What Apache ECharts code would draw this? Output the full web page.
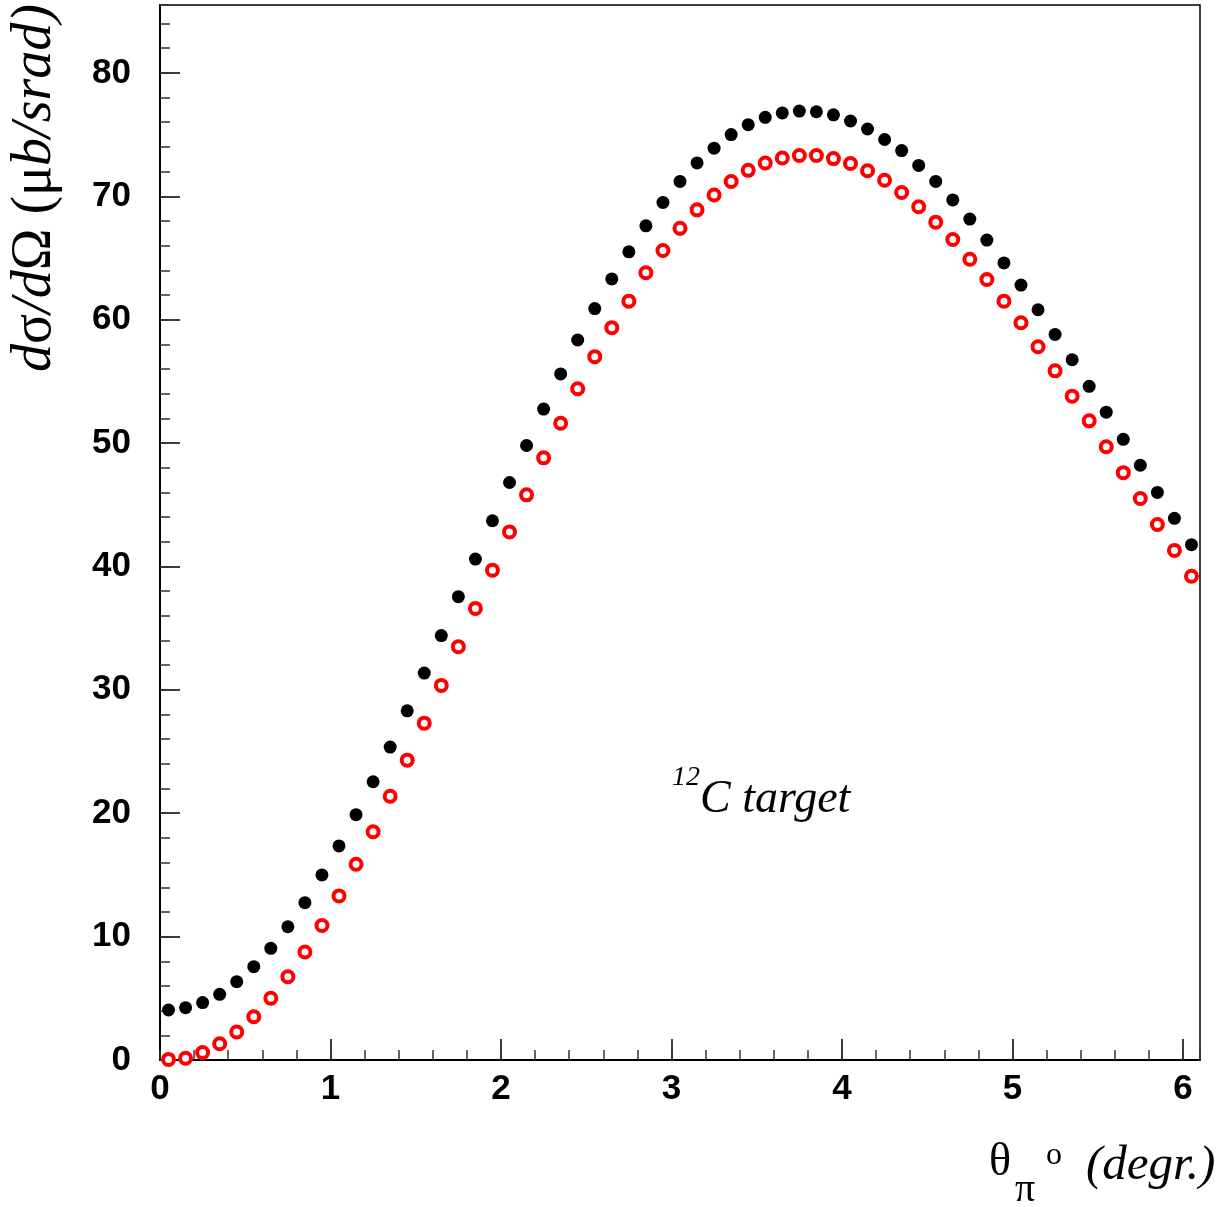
<!DOCTYPE html>
<html>
<head>
<meta charset="utf-8">
<script src="https://cdn.jsdelivr.net/npm/echarts@6/dist/echarts.min.js"></script>
<style>
html,body{margin:0;padding:0;background:#fff;}
#chart{width:1228px;height:1207px;}
</style>
</head>
<body>
<div id="chart"></div>
<script>
// ---- data ----
var theta = [0.05,0.15,0.25,0.35,0.45,0.55,0.65,0.75,0.85,0.95,
             1.05,1.15,1.25,1.35,1.45,1.55,1.65,1.75,1.85,1.95,
             2.05,2.15,2.25,2.35,2.45,2.55,2.65,2.75,2.85,2.95,
             3.05,3.15,3.25,3.35,3.45,3.55,3.65,3.75,3.85,3.95,
             4.05,4.15,4.25,4.35,4.45,4.55,4.65,4.75,4.85,4.95,
             5.05,5.15,5.25,5.35,5.45,5.55,5.65,5.75,5.85,5.95,6.05];
var blackVals = [4.05,4.24,4.65,5.32,6.35,7.56,9.05,10.8,12.75,15.0,
                 17.35,19.88,22.55,25.36,28.3,31.36,34.4,37.55,40.6,43.7,
                 46.8,49.8,52.75,55.6,58.35,60.9,63.3,65.5,67.6,69.5,
                 71.2,72.7,73.9,75.0,75.8,76.4,76.75,76.9,76.85,76.6,
                 76.1,75.45,74.6,73.7,72.5,71.2,69.7,68.15,66.45,64.6,
                 62.8,60.8,58.8,56.75,54.6,52.5,50.3,48.2,46.0,43.9,41.76];
var redVals = [0.05,0.14,0.6,1.32,2.27,3.5,5.0,6.75,8.75,10.9,
               13.3,15.86,18.5,21.37,24.3,27.3,30.36,33.5,36.6,39.7,
               42.8,45.8,48.8,51.6,54.4,57.0,59.35,61.5,63.8,65.6,
               67.4,68.9,70.1,71.2,72.1,72.7,73.1,73.3,73.3,73.05,
               72.65,72.07,71.3,70.3,69.15,67.9,66.5,64.9,63.25,61.5,
               59.75,57.8,55.85,53.8,51.8,49.7,47.6,45.5,43.4,41.3,39.2];
var xTicks = [0,1,2,3,4,5,6];
var yTicks = [0,10,20,30,40,50,60,70,80];

function pairs(xs, ys){ return xs.map(function(x,i){ return [x, ys[i]]; }); }

var chart = echarts.init(document.getElementById('chart'), null, {renderer:'canvas'});
var labelFont = {fontFamily:'Liberation Sans', fontWeight:'bold', fontSize:35, color:'#000'};
var serif = 'Liberation Serif';

var option = {
  backgroundColor:'#fff',
  animation:false,
  grid:{left:160, right:28, top:5, bottom:147, show:true, borderColor:'#000', borderWidth:1.5, backgroundColor:'transparent'},
  xAxis:[
    {type:'value', min:0, max:6.1, interval:1, position:'bottom',
     axisLine:{show:true, onZero:false, lineStyle:{color:'#000', width:2}},
     axisTick:{show:true, inside:true, length:21, lineStyle:{color:'#000', width:1.5}},
     axisLabel:Object.assign({margin:12, showMaxLabel:false, formatter:function(v){ return xTicks.indexOf(v)>=0 ? String(v) : ''; }}, labelFont),
     splitLine:{show:false}},
    {type:'value', min:0, max:6.1, interval:0.2, position:'bottom',
     axisLine:{show:false, onZero:false},
     axisTick:{show:true, inside:true, length:10, lineStyle:{color:'#333', width:1.5}},
     axisLabel:{show:false}, splitLine:{show:false}}
  ],
  yAxis:[
    {type:'value', min:0, max:85.5, interval:10, position:'left',
     axisLine:{show:true, onZero:false, lineStyle:{color:'#000', width:2}},
     axisTick:{show:true, inside:true, length:20, lineStyle:{color:'#000', width:1.5}},
     axisLabel:Object.assign({margin:29, showMaxLabel:false, formatter:function(v){ return yTicks.indexOf(v)>=0 ? String(v) : ''; }}, labelFont),
     splitLine:{show:false}},
    {type:'value', min:0, max:85.5, interval:2, position:'left',
     axisLine:{show:false, onZero:false},
     axisTick:{show:true, inside:true, length:10, lineStyle:{color:'#333', width:1.5}},
     axisLabel:{show:false}, splitLine:{show:false}}
  ],
  series:[
    {type:'scatter', xAxisIndex:0, yAxisIndex:0, data:pairs(theta, blackVals),
     symbol:'circle', symbolSize:13, itemStyle:{color:'#000', opacity:1}, clip:false, z:3},
    {type:'scatter', xAxisIndex:0, yAxisIndex:0, data:pairs(theta, redVals),
     symbol:'circle', symbolSize:11, itemStyle:{color:'#fff', borderColor:'#ff0000', borderWidth:4, opacity:1}, clip:false, z:4}
  ],
  graphic:[
    {type:'text', x:35, y:188, rotation:Math.PI/2,
     style:{text:'{i|d}{n|σ}{i|/d}{n|Ω (μ}{i|b/srad)}', align:'center', verticalAlign:'middle',
       rich:{i:{fontFamily:serif, fontStyle:'italic', fontSize:56, fill:'#000'},
             n:{fontFamily:serif, fontSize:56, fill:'#000'}}}},
    {type:'text', x:1000, y:1163, style:{text:'θ', font:'46px "Liberation Serif"', fill:'#000', align:'center', verticalAlign:'middle'}},
    {type:'text', x:1025, y:1190, style:{text:'π', font:'40px "Liberation Serif"', fill:'#000', align:'center', verticalAlign:'middle'}},
    {type:'text', x:1054, y:1156, style:{text:'o', font:'32px "Liberation Serif"', fill:'#000', align:'center', verticalAlign:'middle'}},
    {type:'text', x:1086, y:1166, style:{text:'(degr.)', font:'italic 49px "Liberation Serif"', fill:'#000', align:'left', verticalAlign:'middle'}},
    {type:'text', x:672, y:778, style:{text:'12', font:'italic 28px "Liberation Serif"', fill:'#000', align:'left', verticalAlign:'middle'}},
    {type:'text', x:700, y:800, style:{text:'C target', font:'italic 46px "Liberation Serif"', fill:'#000', align:'left', verticalAlign:'middle'}}
  ]
};
chart.setOption(option);
</script>
</body>
</html>
